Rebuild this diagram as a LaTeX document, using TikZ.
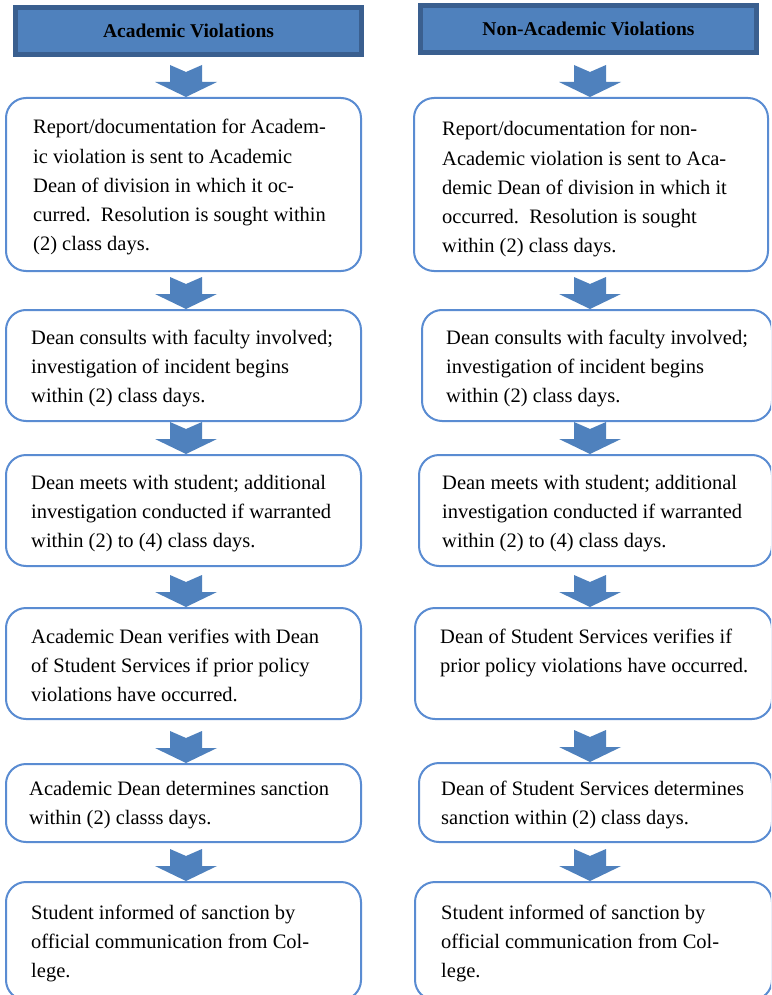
\documentclass[tikz,border=0pt]{standalone}
\usepackage{fontspec}
\setmainfont{Liberation Serif}
\usetikzlibrary{calc}
\definecolor{accent}{HTML}{4F81BD}
\definecolor{hdrdark}{HTML}{3A5F8F}
\definecolor{boxline}{HTML}{5A8CD2}
\tikzset{
  flowbox/.style={draw=boxline, line width=2pt, rounded corners=20pt, fill=white, inner sep=0pt},
  header/.style={draw=hdrdark, fill=accent, line width=5pt, inner sep=0pt, text=black,
                 font=\fontsize{19.5}{22}\selectfont\bfseries},
  boxtext/.style={anchor=base west, inner sep=0pt, font=\fontsize{20.5}{29.25}\selectfont},
  arrowfill/.style={fill=accent}
}
\newcommand\boxlines[1]{\parbox[t]{345pt}{\raggedright #1}}
\newcommand\flowarrow[3]{%
  \fill[arrowfill] let \p1=(#2.north -| #3) in
    (\x1-16pt,\y1+32pt) -- (\x1,\y1+25pt) -- (\x1+16pt,\y1+32pt) -- (\x1+16pt,\y1+15pt)
    -- (\x1+31pt,\y1+15pt) -- (\x1,\y1) -- (\x1-31pt,\y1+15pt) -- (\x1-16pt,\y1+15pt) -- cycle;}
\begin{document}
\begin{tikzpicture}[x=1pt,y=-1pt]
\useasboundingbox (0,0) rectangle (771,995);
\clip (0,0) rectangle (771,995);
\fill[white] (0,0) rectangle (771,995);
\coordinate (colL) at (186,0);
\coordinate (colR) at (590,0);
% headers
\node[header, minimum width=346pt, minimum height=47pt] (H1) at (188.5,31) {Academic Violations};
\node[header, minimum width=336pt, minimum height=47pt] (H2) at (588.5,29) {Non-Academic Violations};
% left boxes
\node[flowbox, minimum width=355pt, minimum height=173pt] (L1) at (183.5,184.5) {};
\node[flowbox, minimum width=355pt, minimum height=111pt] (L2) at (183.5,365.5) {};
\node[flowbox, minimum width=355pt, minimum height=111pt] (L3) at (183.5,510.5) {};
\node[flowbox, minimum width=355pt, minimum height=111pt] (L4) at (183.5,663.5) {};
\node[flowbox, minimum width=355pt, minimum height=78pt] (L5) at (183.5,803) {};
\node[flowbox, minimum width=355pt, minimum height=118pt] (L6) at (183.5,941) {};
% right boxes
\node[flowbox, minimum width=354pt, minimum height=173pt] (R1) at (591,184.5) {};
\node[flowbox, minimum width=350pt, minimum height=111pt] (R2) at (597,365.5) {};
\node[flowbox, minimum width=353pt, minimum height=111pt] (R3) at (595.5,510.5) {};
\node[flowbox, minimum width=357pt, minimum height=111pt] (R4) at (593.5,663.5) {};
\node[flowbox, minimum width=353pt, minimum height=79pt] (R5) at (595.5,802.5) {};
\node[flowbox, minimum width=357pt, minimum height=118pt] (R6) at (593.5,941) {};
% arrows
\flowarrow{H1}{L1}{colL}
\flowarrow{L1}{L2}{colL}
\flowarrow{L2}{L3}{colL}
\flowarrow{L3}{L4}{colL}
\flowarrow{L4}{L5}{colL}
\flowarrow{L5}{L6}{colL}
\flowarrow{H2}{R1}{colR}
\flowarrow{R1}{R2}{colR}
\flowarrow{R2}{R3}{colR}
\flowarrow{R3}{R4}{colR}
\flowarrow{R4}{R5}{colR}
\flowarrow{R5}{R6}{colR}
% left texts
\node[boxtext] (L1t) at (33,134) {\boxlines{Report/documentation for Academ-\\ic violation is sent to Academic\\Dean of division in which it oc-\\curred.\ \ Resolution is sought within\\(2) class days.}};
\node[boxtext] (L2t) at (31,344) {\boxlines{Dean consults with faculty involved;\\investigation of incident begins\\within (2) class days.}};
\node[boxtext] (L3t) at (31,489) {\boxlines{Dean meets with student; additional\\investigation conducted if warranted\\within (2) to (4) class days.}};
\node[boxtext] (L4t) at (31,643) {\boxlines{Academic Dean verifies with Dean\\of Student Services if prior policy\\violations have occurred.}};
\node[boxtext] (L5t) at (29,795) {\boxlines{Academic Dean determines sanction\\within (2) classs days.}};
\node[boxtext] (L6t) at (31,919) {\boxlines{Student informed of sanction by\\official communication from Col-\\lege.}};
% right texts
\node[boxtext] (R1t) at (442,136) {\boxlines{Report/documentation for non-\\Academic violation is sent to Aca-\\demic Dean of division in which it\\occurred.\ \ Resolution is sought\\within (2) class days.}};
\node[boxtext] (R2t) at (446,344) {\boxlines{Dean consults with faculty involved;\\investigation of incident begins\\within (2) class days.}};
\node[boxtext] (R3t) at (442,489) {\boxlines{Dean meets with student; additional\\investigation conducted if warranted\\within (2) to (4) class days.}};
\node[boxtext] (R4t) at (440,643) {\boxlines{Dean of Student Services verifies if\\prior policy violations have occurred.}};
\node[boxtext] (R5t) at (441,795) {\boxlines{Dean of Student Services determines\\sanction within (2) class days.}};
\node[boxtext] (R6t) at (441,919) {\boxlines{Student informed of sanction by\\official communication from Col-\\lege.}};
\end{tikzpicture}
\end{document}
